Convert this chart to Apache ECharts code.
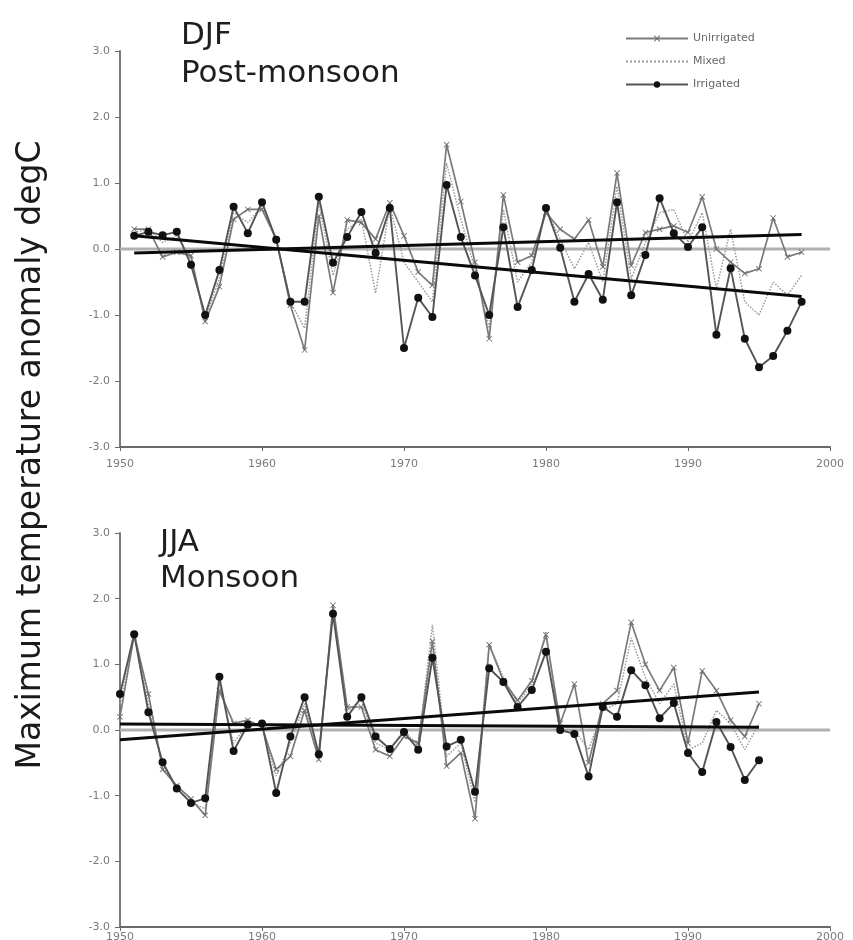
<!DOCTYPE html>
<html>
<head>
<meta charset="utf-8">
<script src="https://cdn.jsdelivr.net/npm/echarts@6/dist/echarts.min.js"></script>
<style>
  html, body { margin: 0; padding: 0; background: #fff; }
  #chart { width: 853px; height: 940px; }
</style>
</head>
<body>
<div id="chart"></div>
<script>
// years
const yearsTop = Array.from({ length: 48 }, (_, i) => 1951 + i);   // 1951..1998
const yearsBot = Array.from({ length: 46 }, (_, i) => 1950 + i);   // 1950..1995

// DJF post-monsoon
const djfUnirrigated = [0.3, 0.3, -0.12, -0.05, -0.1, -1.1, -0.57, 0.45, 0.6, 0.6,
  0.15, -0.85, -1.53, 0.5, -0.66, 0.44, 0.4, 0.15, 0.7, 0.2,
  -0.35, -0.55, 1.58, 0.72, -0.2, -1.36, 0.82, -0.2, -0.1, 0.55,
  0.3, 0.15, 0.44, -0.27, 1.15, -0.25, 0.25, 0.3, 0.35, 0.25,
  0.79, 0.0, -0.2, -0.37, -0.3, 0.47, -0.12, -0.05];
const djfMixed = [0.25, 0.3, 0.1, 0.2, -0.15, -1.05, -0.45, 0.55, 0.4, 0.65,
  0.15, -0.8, -1.2, 0.7, -0.4, 0.3, 0.45, -0.67, 0.65, -0.2,
  -0.5, -0.8, 1.3, 0.45, -0.3, -1.2, 0.6, -0.5, -0.2, 0.6,
  0.15, -0.3, 0.1, -0.5, 0.95, -0.45, 0.1, 0.55, 0.6, 0.1,
  0.55, -0.6, 0.3, -0.8, -1.0, -0.5, -0.7, -0.4];
const djfIrrigated = [0.2, 0.26, 0.21, 0.26, -0.24, -1.0, -0.32, 0.64, 0.24, 0.71,
  0.14, -0.8, -0.8, 0.79, -0.21, 0.18, 0.56, -0.06, 0.62, -1.5,
  -0.74, -1.03, 0.97, 0.18, -0.4, -1.0, 0.33, -0.88, -0.32, 0.62,
  0.02, -0.8, -0.38, -0.77, 0.71, -0.7, -0.09, 0.77, 0.24, 0.03,
  0.33, -1.3, -0.29, -1.36, -1.79, -1.62, -1.24, -0.8];
const djfTrendDown = [[1951, 0.2], [1998, -0.72]];
const djfTrendUp = [[1951, -0.06], [1998, 0.22]];

// JJA monsoon
const jjaUnirrigated = [0.2, 1.45, 0.55, -0.6, -0.85, -1.05, -1.3, 0.6, 0.1, 0.15,
  0.05, -0.6, -0.4, 0.3, -0.45, 1.9, 0.35, 0.35, -0.3, -0.4,
  -0.1, -0.2, 1.35, -0.55, -0.35, -1.35, 1.3, 0.75, 0.45, 0.75,
  1.45, 0.1, 0.7, -0.5, 0.4, 0.6, 1.64, 1.0, 0.6, 0.95,
  -0.2, 0.9, 0.6, 0.15, -0.1, 0.4];
const jjaMixed = [0.4, 1.5, 0.4, -0.55, -0.9, -1.1, -1.2, 0.7, -0.2, 0.1,
  0.05, -0.7, -0.2, 0.4, -0.4, 1.85, 0.3, 0.45, -0.2, -0.3,
  0.0, -0.25, 1.6, -0.4, -0.2, -1.1, 1.3, 0.8, 0.4, 0.7,
  1.5, 0.0, 0.0, -0.3, 0.3, 0.4, 1.4, 0.8, 0.4, 0.7,
  -0.3, -0.2, 0.3, 0.1, -0.3, 0.1];
const jjaIrrigated = [0.55, 1.46, 0.27, -0.49, -0.89, -1.11, -1.04, 0.81, -0.32, 0.08,
  0.1, -0.96, -0.1, 0.5, -0.37, 1.77, 0.2, 0.5, -0.1, -0.29,
  -0.03, -0.3, 1.1, -0.25, -0.15, -0.94, 0.94, 0.73, 0.35, 0.61,
  1.19, 0.0, -0.06, -0.71, 0.35, 0.2, 0.91, 0.68, 0.18, 0.41,
  -0.35, -0.64, 0.12, -0.26, -0.76, -0.46];
const jjaTrendUp = [[1950, -0.15], [1995, 0.58]];
const jjaTrendFlat = [[1950, 0.09], [1995, 0.04]];

const zeroLine = [[1950, 0], [2000, 0]];

const FONT = '"DejaVu Sans", sans-serif';
const crossPath = 'path://M0,1L1,0L5,4L9,0L10,1L6,5L10,9L9,10L5,6L1,10L0,9L4,5Z';

const pair = (xs, ys) => xs.map((x, i) => [x, ys[i]]);

function makeAxes(idx, labelMargin) {
  const xAxis = {
    type: 'value', gridIndex: idx, min: 1950, max: 2000, interval: 10,
    axisLine: { onZero: false, lineStyle: { color: '#6a6a6a', width: 2 } },
    axisTick: { length: 4, lineStyle: { color: '#6a6a6a' } },
    axisLabel: { color: '#7a7a7a', fontSize: 11, margin: labelMargin, fontFamily: FONT, formatter: v => String(v) },
    splitLine: { show: false }
  };
  const yAxis = {
    type: 'value', gridIndex: idx, min: -3, max: 3, interval: 1,
    axisLine: { show: true, lineStyle: { color: '#7a7a7a', width: 2 } },
    axisTick: { show: true, length: 5, lineStyle: { color: '#6a6a6a' } },
    axisLabel: { color: '#7a7a7a', fontSize: 11, margin: 10, fontFamily: FONT, formatter: v => v.toFixed(1) },
    splitLine: { show: false }
  };
  return { xAxis, yAxis };
}

function panelSeries(idx, years, unirr, mixed, irr, trends) {
  const base = { xAxisIndex: idx, yAxisIndex: idx, type: 'line', animation: false };
  const out = [
    Object.assign({}, base, {
      name: 'zero', data: zeroLine, symbol: 'none', silent: true,
      lineStyle: { color: '#b0b0b0', width: 3 }, z: 1
    }),
    Object.assign({}, base, {
      name: 'Unirrigated', data: pair(years, unirr),
      symbol: crossPath, symbolSize: 6,
      itemStyle: { color: '#6e6e6e' },
      lineStyle: { color: '#7a7a7a', width: 1.7 }, z: 3
    }),
    Object.assign({}, base, {
      name: 'Mixed', data: pair(years, mixed), symbol: 'none',
      itemStyle: { color: '#9a9a9a' },
      lineStyle: { color: '#9a9a9a', width: 1.5, type: 'dotted' }, z: 2
    }),
    Object.assign({}, base, {
      name: 'Irrigated', data: pair(years, irr),
      symbol: 'circle', symbolSize: 8,
      itemStyle: { color: '#111' },
      lineStyle: { color: '#555', width: 1.9 }, z: 4
    })
  ];
  trends.forEach((t, k) => out.push(Object.assign({}, base, {
    name: 'trend' + idx + k, data: t, symbol: 'none', silent: true,
    lineStyle: { color: '#0a0a0a', width: 3 }, z: 5
  })));
  return out;
}

const axTop = makeAxes(0, 12), axBot = makeAxes(1, 5);

const chart = echarts.init(document.getElementById('chart'), null, { renderer: 'canvas' });
chart.setOption({
  animation: false,
  backgroundColor: '#fff',
  grid: [
    { left: 120, top: 51, width: 710, height: 396, outerBoundsMode: 'none' },
    { left: 120, top: 533, width: 710, height: 394, outerBoundsMode: 'none' }
  ],
  xAxis: [axTop.xAxis, axBot.xAxis],
  yAxis: [axTop.yAxis, axBot.yAxis],
  title: [
    { text: 'DJF\nPost-monsoon', left: 176, top: 12,
      textStyle: { fontFamily: FONT, fontSize: 31, fontWeight: 'normal', color: '#1e1e1e', lineHeight: 38 } },
    { text: 'JJA\nMonsoon', left: 155, top: 520,
      textStyle: { fontFamily: FONT, fontSize: 31, fontWeight: 'normal', color: '#1e1e1e', lineHeight: 36 } }
  ],
  legend: {
    data: ['Unirrigated', { name: 'Mixed', itemStyle: { opacity: 0 } }, 'Irrigated'],
    orient: 'vertical', left: 620, top: 28, itemWidth: 62, itemHeight: 8, itemGap: 12,
    textStyle: { fontFamily: FONT, fontSize: 11, color: '#666' },
    selectedMode: false
  },
  graphic: [{
    type: 'text', x: 31, y: 455, rotation: Math.PI / 2,
    style: {
      text: 'Maximum temperature anomaly degC',
      font: '33px "DejaVu Sans", sans-serif',
      fill: '#1a1a1a', align: 'center', verticalAlign: 'middle'
    }
  }],
  series: [].concat(
    panelSeries(0, yearsTop, djfUnirrigated, djfMixed, djfIrrigated, [djfTrendDown, djfTrendUp]),
    panelSeries(1, yearsBot, jjaUnirrigated, jjaMixed, jjaIrrigated, [jjaTrendUp, jjaTrendFlat])
  )
});
</script>
</body>
</html>
